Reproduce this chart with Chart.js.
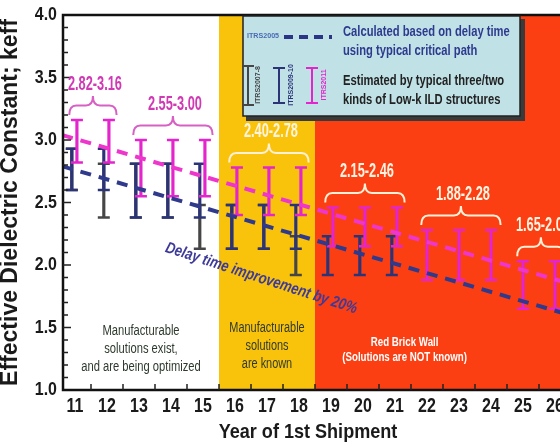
<!DOCTYPE html>
<html>
<head>
<meta charset="utf-8">
<script src="https://cdn.jsdelivr.net/npm/chart.js@4.4.1/dist/chart.umd.min.js"></script>
<style>
  html, body { margin: 0; padding: 0; background: #fff; overflow: hidden; }
  #wrap { width: 560px; height: 444px; overflow: hidden; position: relative; }
  canvas { display: block; }
</style>
</head>
<body>
<div id="wrap"><canvas id="myChart" width="597" height="444"></canvas></div>
<script>
// Year of 1st shipment (20xx) and y axis ticks
const years = [11, 12, 13, 14, 15, 16, 17, 18, 19, 20, 21, 22, 23, 24, 25, 26];
const yTicks = [1.0, 1.5, 2.0, 2.5, 3.0, 3.5, 4.0];
const zoneEdges = [15.5, 18.5];

// ITRS2007-8 effective k range
const itrs2007Years = [11, 12, 13, 14, 15, 16, 17, 18];
const itrs2007Low = [2.60, 2.38, 2.38, 2.38, 2.13, 2.13, 2.13, 1.92];
const itrs2007High = [2.93, 2.81, 2.81, 2.81, 2.48, 2.48, 2.48, 2.23];

// ITRS2009-10 effective k range
const itrs2009Years = [11, 12, 13, 14, 15, 16, 17, 18, 19, 20, 21];
const itrs2009Low = [2.60, 2.60, 2.38, 2.38, 2.38, 2.13, 2.13, 2.13, 1.92, 1.92, 1.92];
const itrs2009High = [2.93, 2.93, 2.81, 2.81, 2.81, 2.48, 2.48, 2.48, 2.23, 2.23, 2.23];

// ITRS2011 effective k range
const itrs2011Years = years;
const itrs2011Low = [2.82, 2.82, 2.55, 2.55, 2.55, 2.40, 2.40, 2.40, 2.15, 2.15, 2.15, 1.88, 1.88, 1.88, 1.65, 1.65];
const itrs2011High = [3.16, 3.16, 3.00, 3.00, 3.00, 2.78, 2.78, 2.78, 2.46, 2.46, 2.46, 2.28, 2.28, 2.28, 2.03, 2.03];

// dashed trend lines
const trendYears = [10.6, 26.2];
const delayLine = [2.79, 1.62];     // ITRS2005, calculated from delay time
const itrs2011Line = [3.04, 1.87];  // ITRS2011 estimate

// range brackets
const rangeLabels = ["2.82-3.16", "2.55-3.00", "2.40-2.78", "2.15-2.46", "1.88-2.28", "1.65-2.03"];
const rangeFrom = [11, 13, 16, 19, 22, 25];
const rangeTo = [12, 15, 18, 21, 24, 26];

// Styles
const SANS = "'Liberation Sans', Arial, sans-serif";
const GRAY = "#464646";
const NAVY = "#2c3478";
const MAGENTA = "#e424cc";
const YELLOW = "#f9c30c";
const RED = "#fb3f12";
const INK = "#1a1a1a";
const DARK_DX = -0.1;
const magentaDx = yr => (yr <= 21 ? 0.06 : 0);

const stems = (xs, lo, hi, dx) => xs.map((x, i) => ({ x: x + dx(x), y: [lo[i], hi[i]] }));
const caps = (xs, lo, hi, dx) =>
  xs.flatMap((x, i) => [{ x: x + dx(x), y: lo[i] }, { x: x + dx(x), y: hi[i] }]);

const stemSet = (data, color) => ({
  type: "bar", data, backgroundColor: color, borderWidth: 0,
  barThickness: 2.5, grouped: false,
});
const capSet = (data, color) => ({
  type: "line", data, showLine: false, pointStyle: "line",
  pointRadius: 6, pointBorderWidth: 2.5, pointBorderColor: color,
  pointBackgroundColor: color,
});
const dashSet = (data, color) => ({
  type: "line", data, borderColor: color, borderWidth: 4,
  borderDash: [11, 8], pointRadius: 0, fill: false,
});

// text squeezed horizontally, the source uses a narrow face
function say(ctx, text, px, py, font, color, sx, align = "center", angle = 0) {
  ctx.save();
  ctx.translate(px, py);
  if (angle) ctx.rotate(angle);
  ctx.scale(sx, 1);
  ctx.font = font;
  ctx.fillStyle = color;
  ctx.textAlign = align;
  ctx.textBaseline = "middle";
  ctx.fillText(text, 0, 0);
  ctx.restore();
}

// coloured zones behind the data
const zones = {
  id: "zones",
  beforeDatasetsDraw(chart) {
    const { ctx, chartArea: a, scales: { x } } = chart;
    const p0 = x.getPixelForValue(zoneEdges[0]);
    const p1 = x.getPixelForValue(zoneEdges[1]);
    ctx.save();
    ctx.fillStyle = YELLOW;
    ctx.fillRect(p0, a.top, p1 - p0, a.bottom - a.top);
    ctx.fillStyle = RED;
    ctx.fillRect(p1, a.top, a.right - p1, a.bottom - a.top);
    ctx.restore();
  },
};

function brace(ctx, x0, x1, yb, h) {
  const xm = (x0 + x1) / 2;
  const r = 7;
  const ym = yb - h / 2;
  ctx.beginPath();
  ctx.moveTo(x0, yb);
  ctx.quadraticCurveTo(x0, ym, x0 + r, ym);
  ctx.lineTo(xm - r, ym);
  ctx.quadraticCurveTo(xm, ym, xm, yb - h);
  ctx.quadraticCurveTo(xm, ym, xm + r, ym);
  ctx.lineTo(x1 - r, ym);
  ctx.quadraticCurveTo(x1, ym, x1, yb);
  ctx.stroke();
}

function iBar(ctx, px, top, bottom, color) {
  ctx.strokeStyle = color;
  ctx.lineWidth = 2;
  ctx.beginPath();
  ctx.moveTo(px, top); ctx.lineTo(px, bottom);
  ctx.moveTo(px - 6, top); ctx.lineTo(px + 6, top);
  ctx.moveTo(px - 6, bottom); ctx.lineTo(px + 6, bottom);
  ctx.stroke();
}

// axes, ticks, brackets, notes and the key box
const annotate = {
  id: "annotate",
  afterDatasetsDraw(chart) {
    const { ctx, chartArea: a, scales: { x, y } } = chart;
    ctx.save();

    // frame
    ctx.strokeStyle = "#111";
    ctx.lineWidth = 2.5;
    ctx.beginPath();
    ctx.moveTo(a.right, a.top);
    ctx.lineTo(a.left, a.top);
    ctx.lineTo(a.left, a.bottom);
    ctx.lineTo(a.right, a.bottom);
    ctx.stroke();

    // inside ticks
    ctx.lineWidth = 1.5;
    ctx.strokeStyle = "#222";
    ctx.beginPath();
    for (let i = 11; i <= 39; i++) {
      const py = y.getPixelForValue(i / 10);
      ctx.moveTo(a.left, py);
      ctx.lineTo(a.left + (i % 5 === 0 ? 8 : 5), py);
    }
    years.forEach(v => {
      const px = x.getPixelForValue(v + 0.5);
      ctx.moveTo(px, a.bottom);
      ctx.lineTo(px, a.bottom - 6);
    });
    ctx.stroke();

    // tick labels and titles
    years.forEach(v => say(ctx, String(v), x.getPixelForValue(v), a.bottom + 16, "bold 20px " + SANS, INK, 0.8));
    yTicks.forEach(v => say(ctx, v.toFixed(1), a.left - 6, y.getPixelForValue(v), "bold 19px " + SANS, INK, 0.84, "right"));
    say(ctx, "Year of 1st Shipment", 308, 432, "bold 21px " + SANS, INK, 0.86);
    say(ctx, "Effective Dielectric Constant; keff", 11, (a.top + a.bottom) / 2, "bold 23px " + SANS, INK, 1, "center", -Math.PI / 2);

    // range brackets
    rangeLabels.forEach((label, i) => {
      const inWhite = rangeFrom[i] < zoneEdges[0];
      const x0 = x.getPixelForValue(rangeFrom[i] - 0.18);
      const x1 = x.getPixelForValue(rangeTo[i] + 0.3);
      const yb = y.getPixelForValue(itrs2011High[years.indexOf(rangeFrom[i])]) - 5;
      ctx.strokeStyle = inWhite ? "#d860c4" : "#fff0d8";
      ctx.lineWidth = 2;
      brace(ctx, x0, x1, yb, 19);
      say(ctx, label, (x0 + x1) / 2 + 2, yb - 31, "bold 20px " + SANS, inWhite ? "#d038b4" : "#fff4e2", 0.64);
    });

    // zone notes
    const z1 = x.getPixelForValue((x.min + zoneEdges[0]) / 2);
    ["Manufacturable", "solutions exist,", "and are being optimized"].forEach((t, i) =>
      say(ctx, t, z1, a.bottom - 59 + i * 18, "14px " + SANS, "#2e3a2e", 0.8));
    const z2 = x.getPixelForValue((zoneEdges[0] + zoneEdges[1]) / 2);
    ["Manufacturable", "solutions", "are known"].forEach((t, i) =>
      say(ctx, t, z2, a.bottom - 62 + i * 18, "14px " + SANS, "#2e3a2e", 0.78));
    const z3 = x.getPixelForValue(21.3);
    say(ctx, "Red Brick Wall", z3, a.bottom - 47, "bold 12px " + SANS, "#fff", 0.81);
    say(ctx, "(Solutions are NOT known)", z3, a.bottom - 32, "bold 12px " + SANS, "#fff", 0.81);

    // delay time note along the ITRS2005 line
    say(ctx, "Delay time improvement by 20%", x.getPixelForValue(13.84), y.getPixelForValue(2.14),
      "italic bold 16px " + SANS, "#3d3a99", 0.82, "left", 18 * Math.PI / 180);

    // key box
    ctx.fillStyle = "#3a3a3a";
    ctx.fillRect(246, 19, 279, 102);
    ctx.fillStyle = "#c0e2e7";
    ctx.fillRect(243, 16, 277, 100);
    ctx.strokeStyle = "#222";
    ctx.lineWidth = 1.5;
    ctx.strokeRect(243, 16, 277, 100);

    say(ctx, "ITRS2005", 247, 36, "bold 7.5px " + SANS, "#4a6bb2", 0.95, "left");
    ctx.strokeStyle = "#2a3585";
    ctx.lineWidth = 4;
    ctx.setLineDash([9, 6]);
    ctx.beginPath();
    ctx.moveTo(284, 37);
    ctx.lineTo(332, 37);
    ctx.stroke();
    ctx.setLineDash([]);

    say(ctx, "Calculated based on delay time", 343, 32, "bold 14px " + SANS, "#2e3a8e", 0.8, "left");
    say(ctx, "using typical critical path", 343, 51, "bold 14px " + SANS, "#2e3a8e", 0.8, "left");
    say(ctx, "Estimated by typical three/two", 343, 81, "bold 14px " + SANS, "#222", 0.8, "left");
    say(ctx, "kinds of Low-k ILD structures", 343, 100, "bold 14px " + SANS, "#222", 0.8, "left");

    iBar(ctx, 248, 66, 105, GRAY);
    say(ctx, "ITRS2007-8", 258, 85, "bold 7px " + SANS, GRAY, 1, "center", -Math.PI / 2);
    iBar(ctx, 279, 68, 103, NAVY);
    say(ctx, "ITRS2009-10", 291, 85, "bold 7px " + SANS, NAVY, 1, "center", -Math.PI / 2);
    iBar(ctx, 312, 68, 103, MAGENTA);
    say(ctx, "ITRS2011", 324, 85, "bold 7px " + SANS, MAGENTA, 1, "center", -Math.PI / 2);

    ctx.restore();
  },
};

new Chart("myChart", {
  type: "bar",
  data: {
    datasets: [
      dashSet(trendYears.map((v, i) => ({ x: v, y: delayLine[i] })), "#2f3a8c"),
      dashSet(trendYears.map((v, i) => ({ x: v, y: itrs2011Line[i] })), "#ee36cc"),
      capSet(caps(itrs2011Years, itrs2011Low, itrs2011High, magentaDx), MAGENTA),
      stemSet(stems(itrs2011Years, itrs2011Low, itrs2011High, magentaDx), MAGENTA),
      capSet(caps(itrs2009Years, itrs2009Low, itrs2009High, () => DARK_DX), NAVY),
      stemSet(stems(itrs2009Years, itrs2009Low, itrs2009High, () => DARK_DX), NAVY),
      capSet(caps(itrs2007Years, itrs2007Low, itrs2007High, () => DARK_DX), GRAY),
      stemSet(stems(itrs2007Years, itrs2007Low, itrs2007High, () => DARK_DX), GRAY),
    ],
  },
  options: {
    responsive: false,
    animation: false,
    events: [],
    layout: { padding: { top: 15, right: 10, left: 0, bottom: 0 } },
    plugins: { legend: { display: false }, tooltip: { enabled: false } },
    scales: {
      x: {
        type: "linear",
        min: 10.625,
        max: 27,
        offset: false,
        grid: { display: false, drawTicks: false },
        border: { display: false },
        ticks: { display: false },
        afterBuildTicks: s => { s.ticks = years.map(v => ({ value: v })); },
        afterFit: s => { s.height = 54; },
      },
      y: {
        min: 1,
        max: 4,
        grid: { display: false, drawTicks: false },
        border: { display: false },
        ticks: { display: false },
        afterBuildTicks: s => { s.ticks = yTicks.map(v => ({ value: v })); },
        afterFit: s => { s.width = 63; },
      },
    },
  },
  plugins: [zones, annotate],
});
</script>
</body>
</html>
